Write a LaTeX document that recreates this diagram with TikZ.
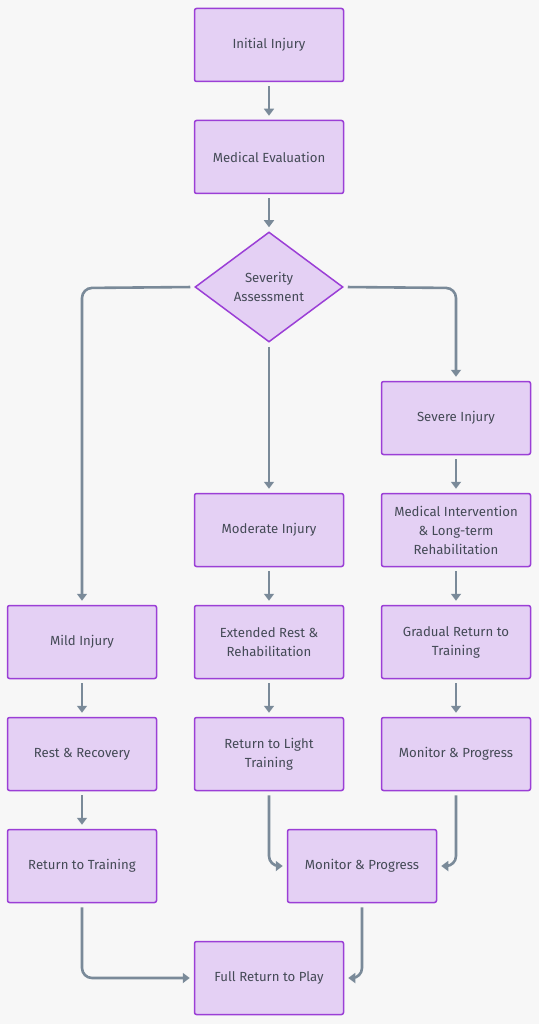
\documentclass[tikz,border=0pt]{standalone}
\usepackage{fontspec}
\setmainfont{Fira Sans}
\usetikzlibrary{shapes.geometric,arrows.meta}
\definecolor{bg}{HTML}{F7F7F7}
\definecolor{boxfill}{HTML}{E4D0F4}
\definecolor{boxline}{HTML}{9B3FD6}
\definecolor{arrowc}{HTML}{7A8A99}
\definecolor{txt}{HTML}{444A56}
\tikzset{
  stepbox/.style={draw=boxline, fill=boxfill, line width=1.5pt, rounded corners=2pt,
    minimum width=149pt, minimum height=73pt, inner sep=0pt, align=center,
    text=txt, font=\fontsize{13.2}{19}\selectfont},
  decision/.style={diamond, draw=boxline, fill=boxfill, line width=1.5pt,
    minimum width=148pt, minimum height=110pt, inner sep=0pt, align=center,
    text=txt, font=\fontsize{13.2}{19}\selectfont},
  conn/.style={draw=arrowc, line width=2.6pt, rounded corners=10pt,
    -{Triangle[length=7pt,width=10pt]}, shorten >=4pt, shorten <=4pt}
}
\begin{document}
\begin{tikzpicture}[x=1pt,y=-1pt]
\fill[bg] (0,0) rectangle (539,1024);
\useasboundingbox (0,0) rectangle (539,1024);
\node[stepbox] (init) at (269,45) {Initial Injury};
\node[stepbox] (eval) at (269,157) {Medical Evaluation};
\node[decision] (sev) at (269,287) {Severity\\Assessment};
\node[stepbox] (severe) at (456,418) {Severe Injury};
\node[stepbox] (moderate) at (269,530) {Moderate Injury};
\node[stepbox] (medint) at (456,530) {Medical Intervention\\\& Long-term\\Rehabilitation};
\node[stepbox] (mild) at (82,642) {Mild Injury};
\node[stepbox] (extrest) at (269,642) {Extended Rest \&\\Rehabilitation};
\node[stepbox] (gradual) at (456,642) {Gradual Return to\\Training};
\node[stepbox] (rest) at (82,754) {Rest \& Recovery};
\node[stepbox] (light) at (269,754) {Return to Light\\Training};
\node[stepbox] (monr) at (456,754) {Monitor \& Progress};
\node[stepbox] (rettrain) at (82,866) {Return to Training};
\node[stepbox] (monc) at (362,866) {Monitor \& Progress};
\node[stepbox] (full) at (269,978) {Full Return to Play};

\draw[conn] (init) -- (eval);
\draw[conn] (eval) -- (sev);
\draw[conn] (sev.west) -- (82,288) -- (mild.north);
\draw[conn] (sev.east) -- (456,288) -- (severe.north);
\draw[conn] (sev.south) -- (moderate.north);
\draw[conn] (severe) -- (medint);
\draw[conn] (medint) -- (gradual);
\draw[conn] (gradual) -- (monr);
\draw[conn] (moderate) -- (extrest);
\draw[conn] (extrest) -- (light);
\draw[conn] (mild) -- (rest);
\draw[conn] (rest) -- (rettrain);
\draw[conn] (light.south) -- (269,866) -- (monc.west);
\draw[conn] (monr.south) -- (456,866) -- (monc.east);
\draw[conn] (monc.south) -- (362,978) -- (full.east);
\draw[conn] (rettrain.south) -- (82,978) -- (full.west);
\end{tikzpicture}
\end{document}
